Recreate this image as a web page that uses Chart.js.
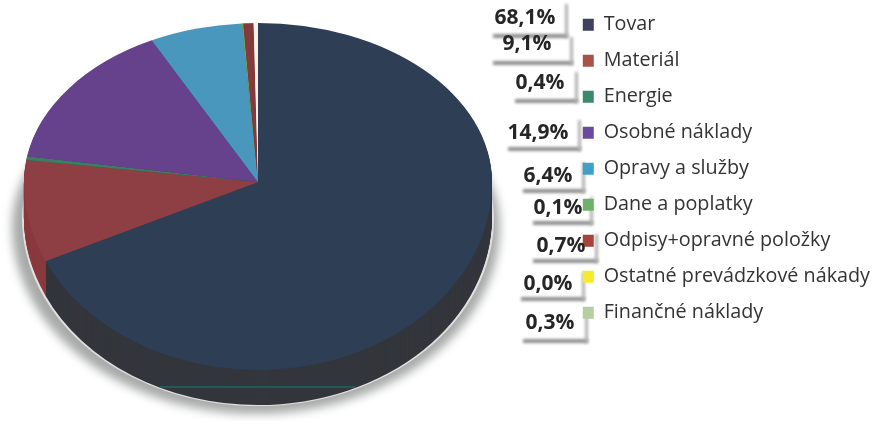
<!DOCTYPE html>
<html><head><meta charset="utf-8">
<style>html,body{margin:0;padding:0;background:#fff}canvas{display:block}</style>
<script src="https://cdn.jsdelivr.net/npm/chart.js@4/dist/chart.umd.js"></script>
</head><body><canvas id="c" width="874" height="421"></canvas>
<script>
const categories = ["Tovar","Materiál","Energie","Osobné náklady","Opravy a služby","Dane a poplatky","Odpisy+opravné položky","Ostatné prevádzkové nákady","Finančné náklady"];
const values = [68.1,9.1,0.4,14.9,6.4,0.1,0.7,0.0,0.3];
const valueLabels = ["68,1%","9,1%","0,4%","14,9%","6,4%","0,1%","0,7%","0,0%","0,3%"];
const sliceColors = ["#2d3e55","#8e3f43","#3d7d62","#66428c","#4a97bd","#6aa85a","#84393b","#f5ea2d","#f6f3e6"];
const sideColors = ["#33363c","#8a3a3e","#2f5f4f","#4c3168","#2f6f8f","#4f7f45","#642c2e","#b0a820","#c8c8b8"];
const legendColors = ["#3f3f60","#a8524c","#3a8a6b","#6a4a9c","#3f9fc6","#6fb06c","#a8433a","#f5ea2d","#b5cfa5"];

// callout boxes: x, y, w, h, text-centre x, text-centre y
const callouts = [[490,2,75,33,525,18],[490,35,80,27,527,44],[512,70,63,30,540,83],[505,118,73,30,538,133],[520,160,62,30,548,176],[530,195,60,27,558,208],[530,232,65,28,561,246],[518,270,64,28,548,284],[520,310,65,30,550,323]];
// projected pie: apex, horizontal radius, upper and lower vertical radii, depth
const pie = {cx:258, cy:182, rx:234, ryTop:159, ryBottom:188, depth:35};

function halves(ctx, el, dy, paint){
  const R = el.outerRadius;
  [[-1000,pie.cy+dy+0.3,pie.ryTop],[pie.cy+dy-0.3,1000,pie.ryBottom]].forEach(([y0,y1,ry])=>{
    ctx.save();
    ctx.beginPath(); ctx.rect(0,y0,874,y1-y0); ctx.clip();
    ctx.translate(pie.cx,pie.cy+dy);
    ctx.scale(pie.rx/R,ry/R);
    ctx.translate(-el.x,-el.y);
    paint();
    ctx.restore();
  });
}
function wedge(ctx, el){
  ctx.beginPath(); ctx.moveTo(el.x,el.y);
  ctx.arc(el.x,el.y,el.outerRadius,el.startAngle,el.endAngle);
  ctx.closePath(); ctx.fill();
}
function outline(ctx, cx, cy, rx, top, bottom){
  ctx.beginPath();
  ctx.ellipse(cx,cy,rx,bottom,0,0,Math.PI);
  ctx.ellipse(cx,cy,rx,top,0,Math.PI,2*Math.PI);
  ctx.closePath(); ctx.fill();
}
const piePlugin = {
  id:'pie3d',
  beforeDraw(chart){
    const ctx = chart.ctx;
    ctx.save();
    ctx.fillStyle='#fff'; ctx.fillRect(0,0,874,421);
    callouts.forEach(b=>{
      ctx.save();
      ctx.filter='blur(1.6px)'; ctx.fillStyle='#8e8e8e';
      ctx.fillRect(b[0]+3,b[1]+b[3]-1,b[2],4);
      ctx.filter='blur(1.6px)'; ctx.fillStyle='#b0b0b0';
      ctx.fillRect(b[0]+b[2],b[1]+2,3,b[3]+1);
      ctx.restore();
    });
    // soft shadow below the pie
    ctx.filter='blur(5px)'; ctx.fillStyle='#a8aaaa';
    outline(ctx,pie.cx-2,pie.cy+44,244,pie.ryTop,pie.ryBottom);
    ctx.filter='none'; ctx.fillStyle='#e0e0e0';
    outline(ctx,pie.cx,pie.cy+pie.depth+1,pie.rx+2,pie.ryTop,pie.ryBottom);
    ctx.restore();
  },
  beforeDatasetsDraw(chart){
    const ctx = chart.ctx, els = chart.getDatasetMeta(0).data;
    // side wall
    for(let d=pie.depth;d>=1;d--){
      els.forEach((el,i)=>{ ctx.fillStyle=sideColors[i]; halves(ctx,el,d,()=>wedge(ctx,el)); });
    }
    ctx.fillStyle='#1f5a58'; ctx.fillRect(160,386,195,2);
    // top face
    els.forEach(el=>halves(ctx,el,0,()=>el.draw(ctx)));
    return false;
  },
  afterDraw(chart){
    const ctx = chart.ctx;
    ctx.save();
    ctx.font='bold 21px "Open Sans"'; ctx.fillStyle='#262626';
    ctx.textAlign='center'; ctx.textBaseline='middle';
    valueLabels.forEach((t,i)=>ctx.fillText(t,callouts[i][4],callouts[i][5]));
    ctx.restore();
  }
};
new Chart(document.getElementById('c'),{
  type:'pie',
  data:{labels:categories,datasets:[{data:values,backgroundColor:sliceColors,borderWidth:0}]},
  options:{
    responsive:false,animation:false,
    layout:{padding:{top:-1.5,right:-6,bottom:0,left:0}},
    plugins:{
      tooltip:{enabled:false},
      legend:{position:'right',align:'start',
        labels:{boxWidth:11,boxHeight:12,padding:16.25,color:'#333',font:{family:'"Open Sans"',size:19.75},
          generateLabels:()=>categories.map((t,i)=>({text:t,fillStyle:legendColors[i],strokeStyle:legendColors[i],lineWidth:0,hidden:false,index:i,fontColor:'#333'}))}}
    }
  },
  plugins:[piePlugin]
});
</script></body></html>
